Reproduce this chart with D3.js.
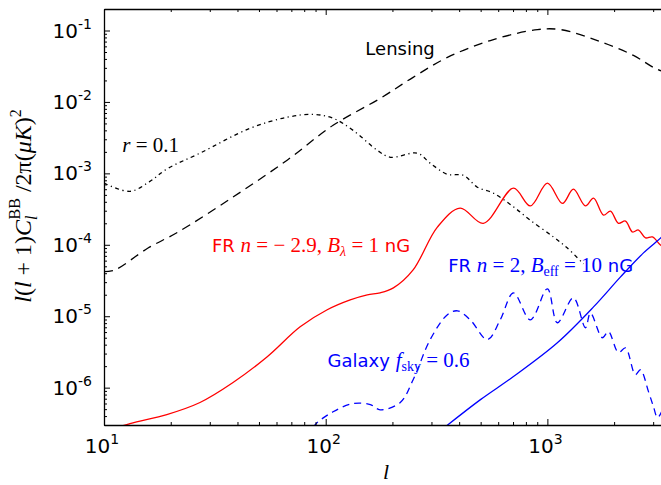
<!DOCTYPE html>
<html>
<head>
<meta charset="utf-8">
<script src="https://cdn.jsdelivr.net/npm/d3@7"></script>
<style>
  body { margin: 0; background: #fff; }
  svg { display: block; }
</style>
</head>
<body>
<svg id="chart" width="661" height="485"></svg>
<script>
// multipoles l and l(l+1)C_l/2pi values
var lensing_l = [10, 11.2, 15.8, 21.6, 38.2, 67, 108, 176, 248, 354, 553, 902, 1145, 1682, 2445, 3010, 3500]
var lensing_v = [4.2e-5, 4.45e-5, 9.0e-5, 1.51e-4, 4.66e-4, 1.53e-3, 4.71e-3, 0.0112, 0.0221, 0.042, 0.0724, 0.103, 0.103, 0.0724, 0.0448, 0.0304, 0.025]

var tens_l = [10, 13.1, 16, 19.2, 27.1, 45.6, 67, 87.9, 108, 133, 171, 196, 259, 296, 354, 418, 483, 570, 703, 838, 1064, 1231, 1455]
var tens_v = [7.3e-4, 5.6e-4, 7.6e-4, 1.15e-3, 1.92e-3, 4.28e-3, 6.1e-3, 6.7e-3, 5.9e-3, 4.0e-3, 2.1e-3, 1.68e-3, 1.92e-3, 1.39e-3, 9.7e-4, 9.4e-4, 6.4e-4, 5.3e-4, 3.4e-4, 2.2e-4, 1.29e-4, 9.0e-5, 5.4e-5]

var frRed_l = [10, 13.1, 19.2, 27.1, 38.2, 54.5, 76.7, 101.6, 129, 154, 176, 202, 248, 319, 404, 514, 703, 838, 1000, 1170, 1310, 1485, 1615, 1791, 1925, 2092, 2250, 2420, 2576, 2770, 2978, 3236, 3500]
var frRed_v = [2.4e-7, 3.14e-7, 4.2e-7, 6.2e-7, 1.18e-6, 2.71e-6, 7.1e-6, 1.23e-5, 1.69e-5, 1.99e-5, 2.12e-5, 2.49e-5, 4.45e-5, 1.77e-4, 3.27e-4, 2.0e-4, 6.2e-4, 3.5e-4, 7.3e-4, 3.8e-4, 6.0e-4, 3.5e-4, 4.5e-4, 2.6e-4, 2.96e-4, 2.0e-4, 2.15e-4, 1.51e-4, 1.61e-4, 1.25e-4, 1.29e-4, 9.9e-5, 8.5e-5]

var frBlue_l = [340, 499, 703, 1109, 1615, 2138, 2713, 3275, 3500]
var frBlue_v = [2.7e-7, 6.8e-7, 1.43e-6, 4.25e-6, 1.35e-5, 3.55e-5, 7.7e-5, 1.28e-4, 1.6e-4]

var galaxy_l = [88, 91.5, 108, 133, 159, 176, 217, 248, 296, 354, 393, 449, 536, 613, 703, 838, 1000, 1109, 1310, 1485, 1564, 1770, 1884, 2092, 2250, 2494, 2630, 2858, 3010, 3140, 3275]
var galaxy_v = [2.8e-7, 3.24e-7, 4.6e-7, 6.0e-7, 5.8e-7, 4.9e-7, 6.2e-7, 1.29e-6, 4.7e-6, 1.05e-5, 1.19e-5, 8.9e-6, 4.7e-6, 8.9e-6, 2.12e-5, 8.9e-6, 2.42e-5, 8.1e-6, 1.81e-5, 6.9e-6, 1.11e-5, 5.0e-6, 6.1e-6, 3.1e-6, 3.6e-6, 1.52e-6, 1.78e-6, 8.8e-7, 5.4e-7, 3.8e-7, 4.6e-7]

var xMajor = [10, 100, 1000]
var xExp = ["1", "2", "3"]
var yMajor = [1e-1, 1e-2, 1e-3, 1e-4, 1e-5, 1e-6]
var yExp = ["-1", "-2", "-3", "-4", "-5", "-6"]

const sans = "DejaVu Sans, sans-serif"
const serif = "Liberation Serif, DejaVu Serif, serif"

const margin = { top: 9, left: 104, right: -7, bottom: 60 }
const width = 661, height = 485
const svg = d3.select('#chart')

const x = d3.scaleLog().domain([10, 3500]).range([margin.left, width - margin.right])
const y = d3.scaleLog().domain([3e-7, 0.2]).range([height - margin.bottom, margin.top])

svg.append("clipPath").attr("id", "plotclip")
    .append("rect")
    .attr("x", x.range()[0]).attr("y", y.range()[1])
    .attr("width", x.range()[1] - x.range()[0])
    .attr("height", y.range()[0] - y.range()[1])

function zip(ls, vs) { return ls.map((l, i) => [l, vs[i]]) }

const line = d3.line()
    .x(d => x(d[0]))
    .y(d => y(d[1]))
    .curve(d3.curveCatmullRom.alpha(0.5))

const curves = [
    { data: zip(lensing_l, lensing_v), color: "#000", dash: "9,6" },
    { data: zip(tens_l, tens_v), color: "#000", dash: "4,3.5,1.2,3.5" },
    { data: zip(frRed_l, frRed_v), color: "#ff0000", dash: null },
    { data: zip(frBlue_l, frBlue_v), color: "#0000ff", dash: null },
    { data: zip(galaxy_l, galaxy_v), color: "#0000ff", dash: "7,5" }
]

const plot = svg.append("g").attr("clip-path", "url(#plotclip)")
curves.forEach(c => {
    plot.append("path")
        .datum(c.data)
        .attr("d", line)
        .attr("fill", "none")
        .attr("stroke", c.color)
        .attr("stroke-width", 1.3)
        .attr("stroke-dasharray", c.dash)
})

// ticks: major + minor, all pointing inward
const xMinor = x.ticks().filter(t => xMajor.indexOf(t) < 0)
const yMinor = y.ticks().filter(t => !yMajor.some(m => Math.abs(m - t) / t < 1e-6))

function addAxis(axisFn, scale, pos, transform) {
    const g = svg.append("g").attr("transform", transform)
    g.call(axisFn(scale).tickValues(pos.major).tickSize(-6).tickSizeOuter(0).tickFormat(""))
    const g2 = svg.append("g").attr("transform", transform)
    g2.call(axisFn(scale).tickValues(pos.minor).tickSize(-3).tickSizeOuter(0).tickFormat(""))
    g2.select(".domain").remove()
    svg.selectAll(".domain").attr("stroke", "#000").attr("stroke-width", 1.3)
    svg.selectAll(".tick line").attr("stroke", "#000").attr("stroke-width", 1)
}
addAxis(d3.axisBottom, x, { major: xMajor, minor: xMinor }, `translate(0,${y.range()[0]})`)
addAxis(d3.axisTop, x, { major: xMajor, minor: xMinor }, `translate(0,${y.range()[1]})`)
addAxis(d3.axisLeft, y, { major: yMajor, minor: yMinor }, `translate(${x.range()[0]},0)`)
addAxis(d3.axisRight, y, { major: yMajor, minor: yMinor }, `translate(${x.range()[1]},0)`)

// tick labels
xMajor.forEach((t, i) => {
    const tx = svg.append("text")
        .attr("x", x(t) - 2).attr("y", y.range()[0] + 28)
        .attr("text-anchor", "middle")
        .attr("font-family", sans).attr("font-size", 20)
    tx.append("tspan").text("10")
    tx.append("tspan").attr("dy", -9).attr("font-size", 14).text(xExp[i])
})
yMajor.forEach((t, i) => {
    const ty = svg.append("text")
        .attr("x", x.range()[0] - 12).attr("y", y(t) + 7)
        .attr("text-anchor", "end")
        .attr("font-family", sans).attr("font-size", 20)
    ty.append("tspan").text("10")
    ty.append("tspan").attr("dy", -9).attr("font-size", 14).text(yExp[i])
})

// axis titles
svg.append("text")
    .attr("x", 386).attr("y", 479)
    .attr("text-anchor", "middle")
    .attr("font-family", serif).attr("font-style", "italic").attr("font-size", 22)
    .text("l")

const yl = svg.append("text")
    .attr("transform", "translate(31,206) rotate(-90)")
    .attr("text-anchor", "middle")
    .attr("font-family", serif).attr("font-size", 24)
yl.append("tspan").attr("font-style", "italic").text("l")
yl.append("tspan").text("(")
yl.append("tspan").attr("font-style", "italic").text("l")
yl.append("tspan").text(" + 1)")
yl.append("tspan").attr("font-style", "italic").text("C")
yl.append("tspan").attr("font-style", "italic").attr("font-size", 16).attr("dy", 6).text("l")
yl.append("tspan").attr("font-size", 16).attr("dx", -4).attr("dy", -17).text("BB")
yl.append("tspan").attr("dy", 11).text(" /2π(")
yl.append("tspan").attr("font-style", "italic").text("μK")
yl.append("tspan").text(")")
yl.append("tspan").attr("font-size", 16).attr("dy", -10).text("2")

// curve annotations, anchored in data coordinates
function annotate(l, v, color, parts) {
    const t = svg.append("text")
        .attr("x", x(l)).attr("y", y(v))
        .attr("fill", color).attr("font-size", 18)
    parts.forEach(p => {
        const s = t.append("tspan").text(p.t)
        s.attr("font-family", p.f === "s" ? sans : serif)
        if (p.i) s.attr("font-style", "italic")
        if (p.sz) s.attr("font-size", p.sz)
        if (p.dy) s.attr("dy", p.dy)
    })
}

annotate(151, 0.0448, "#000", [{ t: "Lensing", f: "s" }])
annotate(12.1, 1.98e-3, "#000", [{ t: "r", i: 1, sz: 21 }, { t: " = 0.1", sz: 21 }])
annotate(30.7, 7.9e-5, "#ff0000", [
    { t: "FR ", f: "s" }, { t: "n", i: 1, sz: 21 }, { t: " = − 2.9, ", sz: 21 },
    { t: "B", i: 1, sz: 21 }, { t: "λ", i: 1, sz: 14, dy: 4 }, { t: " = 1", sz: 21, dy: -4 },
    { t: " nG", f: "s" }])
annotate(357, 4.17e-5, "#0000ff", [
    { t: "FR ", f: "s" }, { t: "n", i: 1, sz: 21 }, { t: " = 2, ", sz: 21 },
    { t: "B", i: 1, sz: 21 }, { t: "eff", sz: 14, dy: 4 }, { t: " = 10", sz: 21, dy: -4 },
    { t: " nG", f: "s" }])
annotate(102, 1.96e-6, "#0000ff", [
    { t: "Galaxy ", f: "s" }, { t: "f", i: 1, sz: 21 }, { t: "sky", sz: 14, dy: 4 },
    { t: " = 0.6", sz: 21, dy: -4 }])
</script>
</body>
</html>
